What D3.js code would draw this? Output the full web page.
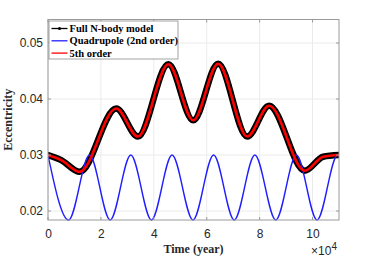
<!DOCTYPE html>
<html>
<head>
<meta charset="utf-8">
<script src="https://cdn.jsdelivr.net/npm/d3@7"></script>
<style>
  body { margin: 0; background: #fff; }
  svg { display: block; }
</style>
</head>
<body>
<svg id="chart" width="374" height="262"></svg>
<script>
// time in units of 1e4 years
var nbodyTime = [0, 0.5, 1.2, 2.58, 3.4, 4.55, 5.49, 6.43, 7.53, 8.36, 9.71, 10.4, 11];
var nbodyEcc  = [0.0300, 0.0291, 0.0270, 0.0383, 0.0333, 0.0462, 0.0362, 0.0463, 0.0333, 0.0388, 0.0272, 0.0297, 0.0300];

var quadTime = [0, 0.78, 1.57, 2.35, 3.13, 3.91, 4.69, 5.48, 6.26, 7.04, 7.82, 8.61, 9.39, 10.17, 10.95, 11];
var quadEcc  = [0.0300, 0.0184, 0.0300, 0.0184, 0.0300, 0.0184, 0.0300, 0.0184, 0.0300, 0.0184, 0.0300, 0.0184, 0.0300, 0.0184, 0.0300, 0.02998];

// 5th order sits on top of the N-body curve
var fifthTime = nbodyTime.slice();
var fifthEcc  = nbodyEcc.slice();

var xTicks = [0, 2, 4, 6, 8, 10];
var yTicks = [0.02, 0.03, 0.04, 0.05];
var legendNames = ["Full N-body model", "Quadrupole (2nd order)", "5th order"];

var margin = { top: 19.5, right: 35, bottom: 42, left: 48 };
var svg = d3.select("#chart");
var width = 374 - margin.left - margin.right;
var height = 262 - margin.top - margin.bottom;

var x = d3.scaleLinear().domain([0, 11]).range([0, width]);
var y = d3.scaleLinear().domain([0.0184, 0.0542]).range([height, 0]);

svg.append("rect").attr("width", 374).attr("height", 262).attr("fill", "#fff");

var g = svg.append("g").attr("transform", "translate(" + margin.left + "," + margin.top + ")");

// grid
g.append("g").selectAll("line").data(xTicks).enter().append("line")
  .attr("x1", d => x(d)).attr("x2", d => x(d))
  .attr("y1", 0).attr("y2", height)
  .attr("stroke", "#ebebeb").attr("stroke-width", 1);
g.append("g").selectAll("line").data(yTicks).enter().append("line")
  .attr("x1", 0).attr("x2", width)
  .attr("y1", d => y(d)).attr("y2", d => y(d))
  .attr("stroke", "#ebebeb").attr("stroke-width", 1);

g.append("clipPath").attr("id", "clip")
  .append("rect").attr("width", width).attr("height", height + 1);

var line = d3.line()
  .x(d => x(d[0])).y(d => y(d[1]))
  .curve(d3.curveMonotoneX);

var plot = g.append("g").attr("clip-path", "url(#clip)");

plot.append("path")
  .attr("d", line(d3.zip(nbodyTime, nbodyEcc)))
  .attr("fill", "none").attr("stroke", "#000")
  .attr("stroke-width", 6.5).attr("stroke-linejoin", "round").attr("stroke-linecap", "round");

plot.append("path")
  .attr("d", line(d3.zip(quadTime, quadEcc)))
  .attr("fill", "none").attr("stroke", "#1f1fff").attr("stroke-width", 1.4);

plot.append("path")
  .attr("d", line(d3.zip(fifthTime, fifthEcc)))
  .attr("fill", "none").attr("stroke", "#ff0000").attr("stroke-width", 2.6);

// axes
var axisColor = "#9a9a9a";
var xAxis = d3.axisBottom(x).tickValues(xTicks).tickSize(0).tickPadding(9).tickFormat(d3.format("d"));
var yAxis = d3.axisLeft(y).tickValues(yTicks).tickSize(0).tickPadding(5).tickFormat(d3.format(".2f"));

var gx = g.append("g").attr("transform", "translate(0," + height + ")").call(xAxis);
var gy = g.append("g").call(yAxis);
[gx, gy].forEach(function(a) {
  a.select(".domain").remove();
  a.selectAll("text")
    .attr("fill", "#262626")
    .style("font-family", "'Liberation Sans', Arial, sans-serif")
    .style("font-size", "12px");
});

// inward tick marks, mirrored
g.append("g").selectAll("line").data(xTicks).enter().append("line")
  .attr("x1", d => x(d)).attr("x2", d => x(d)).attr("y1", height).attr("y2", height - 3)
  .attr("stroke", axisColor);
g.append("g").selectAll("line").data(xTicks).enter().append("line")
  .attr("x1", d => x(d)).attr("x2", d => x(d)).attr("y1", 0).attr("y2", 3)
  .attr("stroke", axisColor);
g.append("g").selectAll("line").data(yTicks).enter().append("line")
  .attr("x1", 0).attr("x2", 3).attr("y1", d => y(d)).attr("y2", d => y(d))
  .attr("stroke", axisColor);
g.append("g").selectAll("line").data(yTicks).enter().append("line")
  .attr("x1", width - 3).attr("x2", width).attr("y1", d => y(d)).attr("y2", d => y(d))
  .attr("stroke", axisColor);

g.append("rect")
  .attr("x", 0).attr("y", 0).attr("width", width).attr("height", height)
  .attr("fill", "none").attr("stroke", axisColor).attr("stroke-width", 1);

// exponent
var expo = g.append("text")
  .attr("x", width - 2).attr("y", height + 35)
  .attr("text-anchor", "end")
  .attr("fill", "#262626")
  .style("font-family", "'Liberation Sans', Arial, sans-serif")
  .style("font-size", "12px");
expo.append("tspan").text("\u00d710");
expo.append("tspan").attr("dy", -5).style("font-size", "10px").text("4");

// axis labels
g.append("text")
  .attr("x", width / 2).attr("y", height + 33)
  .attr("text-anchor", "middle")
  .style("font-family", "'Liberation Serif', 'Times New Roman', serif")
  .style("font-weight", "bold").style("font-size", "12px")
  .attr("fill", "#262626")
  .text("Time (year)");

g.append("text")
  .attr("transform", "translate(" + (-36) + "," + (height / 2) + ") rotate(-90)")
  .attr("text-anchor", "middle")
  .style("font-family", "'Liberation Serif', 'Times New Roman', serif")
  .style("font-weight", "bold").style("font-size", "12px")
  .attr("fill", "#262626")
  .text("Eccentricity");

// legend
var legend = g.append("g").attr("transform", "translate(1,1.5)");
legend.append("rect")
  .attr("width", 129).attr("height", 38)
  .attr("fill", "#fff").attr("stroke", "#8c8c8c").attr("stroke-width", 0.8);

var legendColors = ["#000", "#1f1fff", "#ff0000"];
var legendWidths = [1.3, 1.3, 1.3];
legendNames.forEach(function(name, i) {
  var ly = 7.5 + i * 12.3;
  legend.append("line")
    .attr("x1", 2.5).attr("x2", 18.5).attr("y1", ly).attr("y2", ly)
    .attr("stroke", legendColors[i]).attr("stroke-width", legendWidths[i]);
  if (i === 0) {
    legend.append("circle").attr("cx", 10.5).attr("cy", ly).attr("r", 1.6).attr("fill", "#000");
  }
  legend.append("text")
    .attr("x", 20.5).attr("y", ly + 3.6)
    .style("font-family", "'Liberation Serif', 'Times New Roman', serif")
    .style("font-weight", "bold").style("font-size", "10.5px")
    .attr("fill", "#000")
    .text(name);
});
</script>
</body>
</html>
